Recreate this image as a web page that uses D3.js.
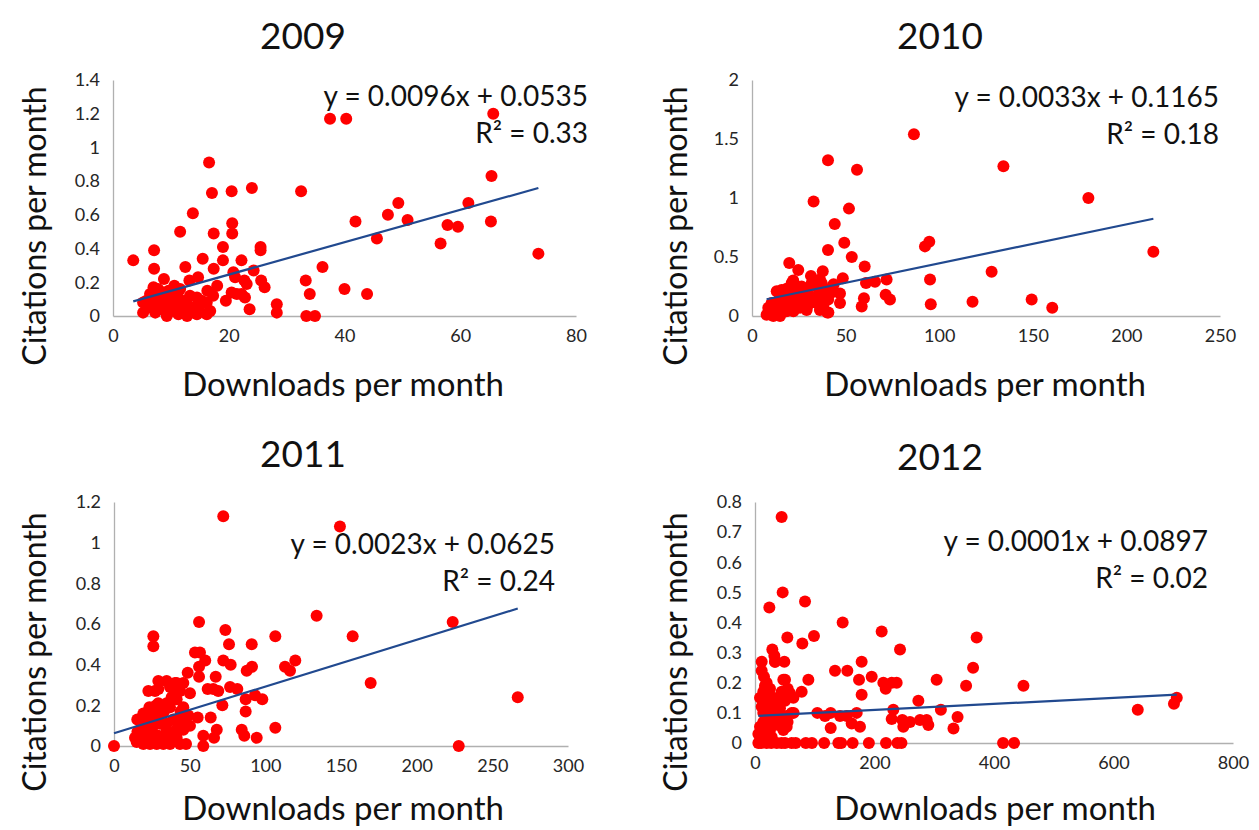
<!DOCTYPE html>
<html>
<head>
<meta charset="utf-8">
<script src="https://cdn.jsdelivr.net/npm/d3@7"></script>
<style>
  body { margin: 0; background: #fff; }
  svg { display: block; font-family: Lato, "Open Sans", sans-serif; }
</style>
</head>
<body>
<svg id="chart" width="1259" height="830"></svg>
<script>
// ---- Data: downloads per month (x) and citations per month (y), one pair of arrays per year ----
const years = ["2009", "2010", "2011", "2012"];

const downloads2009 = [3.5,7.1,7.1,8.8,11.6,13.8,16.6,17.1,20.5,24.0,32.5,37.5,40.3,65.7,65.4,20.6,20.6,17.4,19.0,19.0,15.5,12.5,17.4,22.2,25.5,25.5,24.3,36.2,20.8,21.1,14.7,13.2,22.7,23.1,25.6,26.2,33.3,34.0,40.0,43.9,18.0,16.3,17.3,19.5,20.5,21.4,22.2,22.8,23.6,28.3,28.3,33.4,34.9,13.3,11.6,10.6,41.9,47.5,49.3,50.9,57.8,59.6,61.4,65.3,56.6,45.6,73.5,9.6,8.7,7.8,7.0,6.4,5.8,5.2,5.2,7.3,9.3,11.3,12.8,14.5,16.2,15.0,13.8,12.1,10.7,9.8,8.4,7.0,7.8,6.1,16.2,15.3,14.5,12.7,11.3,10.1,9.0,7.8,10.5,12.0,8.5,14.0,6.5,9.3,11.0,8.0,16.8];
const citations2009 = [0.33,0.39,0.28,0.22,0.50,0.61,0.91,0.73,0.74,0.76,0.74,1.17,1.17,1.20,0.83,0.55,0.49,0.49,0.41,0.33,0.34,0.29,0.28,0.33,0.41,0.39,0.27,0.29,0.26,0.23,0.23,0.21,0.21,0.19,0.21,0.17,0.21,0.13,0.16,0.13,0.18,0.15,0.12,0.09,0.14,0.13,0.13,0.11,0.04,0.07,0.02,0,0,0.12,0.16,0.18,0.56,0.60,0.67,0.57,0.54,0.53,0.67,0.56,0.43,0.46,0.37,0.15,0.14,0.16,0.17,0.13,0.09,0.08,0.02,0.02,0.0,0.01,0.0,0.01,0.01,0.06,0.05,0.08,0.07,0.09,0.08,0.08,0.05,0.05,0.08,0.09,0.11,0.09,0.11,0.12,0.11,0.11,0.03,0.04,0.04,0.02,0.11,0.06,0.14,0.13,0.03];

const downloads2010 = [86.5,40.6,56.1,134.3,179.7,32.9,51.8,44.2,49.3,40.6,53.3,60.2,92.4,94.7,214.4,128.0,95.1,71.9,60.9,65.7,71.4,73.7,95.5,117.8,149.4,160.4,59.8,58.6,47.0,47.0,40.2,41.7,42.9,48.5,19.9,24.7,37.8,31.5,36.3,22.1,13.2,15.8,18.5,21.2,23.0,26.5,29.2,31.9,34.6,37.2,39.0,15.0,17.6,20.3,23.9,27.4,30.1,33.7,36.3,39.9,10.5,13.2,16.7,20.3,23.9,27.4,31.0,34.6,38.1,7.8,11.4,15.0,22.1,29.2,36.3,40.8,14.1,18.5,25.6,8.7,11.4,22.0,43.6,42.5,40.7,35.9,31.6,29.4];
const citations2010 = [1.54,1.32,1.24,1.27,1.00,0.97,0.91,0.78,0.62,0.56,0.50,0.42,0.59,0.63,0.545,0.375,0.31,0.31,0.28,0.29,0.18,0.14,0.10,0.12,0.14,0.07,0.15,0.08,0.19,0.11,0.03,0.22,0.25,0.32,0.45,0.39,0.38,0.34,0.31,0.29,0.21,0.22,0.23,0.28,0.23,0.25,0.22,0.28,0.25,0.28,0.21,0.16,0.14,0.15,0.16,0.16,0.18,0.16,0.14,0.16,0.11,0.09,0.08,0.09,0.08,0.11,0.11,0.11,0.09,0.01,0.0,0.0,0.04,0.05,0.05,0.03,0.05,0.04,0.07,0.07,0.04,0.30,0.27,0.20,0.14,0.20,0.14,0.08];

const downloads2011 = [72.2,149.3,133.9,223.8,157.7,169.6,266.8,227.8,0,26.0,26.0,56.2,73.6,76.0,91.0,106.6,53.5,56.8,60.3,72.2,77.1,87.7,91.2,113.0,116.3,119.8,56.2,56.2,48.7,67.2,29.3,22.7,40.3,43.6,45.8,40.3,43.6,50.2,61.9,65.6,68.9,76.7,81.5,87.0,93.2,98.0,71.6,87.0,55.3,63.9,106.6,84.4,86.1,94.3,67.9,66.1,59.0,59.0,22.7,26.0,29.3,31.5,34.8,38.1,41.4,45.8,49.1,50.2,45.8,41.4,37.0,32.6,28.2,23.8,19.4,15.0,13.9,17.2,21.6,26.0,30.4,34.8,39.2,43.6,46.9,18.3,22.7,27.1,34.8,39.2,29.3,23.8,43.6,47.6,15.4,19.4,23.4,29.3,27.1,34.8,37.0,41.4,20.0,25.0,31.0,36.0,42.0,18.0,28.0,33.0,37.0,44.0,24.0,15.5];
const citations2011 = [1.13,1.08,0.64,0.61,0.54,0.31,0.24,0,0,0.54,0.49,0.61,0.57,0.50,0.50,0.54,0.46,0.46,0.42,0.42,0.40,0.37,0.39,0.39,0.37,0.42,0.39,0.34,0.36,0.34,0.32,0.27,0.31,0.30,0.31,0.28,0.27,0.26,0.28,0.28,0.27,0.29,0.28,0.23,0.25,0.23,0.20,0.17,0.14,0.14,0.09,0.08,0.05,0.04,0.08,0.04,0.05,0,0.14,0.19,0.21,0.16,0.21,0.24,0.23,0.19,0.15,0.10,0.08,0.04,0.01,0.01,0.01,0.01,0.01,0.02,0.04,0.06,0.08,0.10,0.11,0.11,0.13,0.13,0.12,0.11,0.13,0.14,0.08,0.06,0.05,0.05,0.01,0.01,0.13,0.16,0.19,0.28,0.27,0.32,0.29,0.31,0.03,0.07,0.03,0.05,0.09,0.09,0.20,0.17,0.19,0.17,0.16,0.07];

const downloads2012 = [44.6,46.3,24.0,83.7,146.7,212,371,98.7,54.1,79.2,242.7,29,32.4,11.2,49.1,33.5,178.5,365,133.9,154.5,174.1,195.3,50.2,89.3,214.8,218.7,228.8,237.1,304,353.3,449.3,78.1,54.7,64.2,178.5,273.4,231.5,311.1,640.6,705.9,701.2,104.3,117.2,126.7,142.3,153.5,161.8,170.2,175.7,126.7,228.8,246.6,248.2,259.4,276.2,287.3,290.1,339,332.2,10.2,27.2,44.2,61.3,68.1,85.1,95.3,115.7,139.5,144.3,163.4,190.6,219.2,238.3,245.1,415.2,433.6,5.6,19.5,36.3,50.2,11.2,15.1,19.5,16.7,25.1,13.9,8.4,16.7,25.1,30.7,36.3,22.3,11.2,19.5,27.9,36.3,41.8,13.9,25.1,33.5,41.8,50.2,53.0,39.1,27.9,13.9,8.4,16.7,25.1,5.6,13.9,27.9,47.4,53.0,61.4,50.2,44.6,47.4,33.5,58.6,64.7,47.7,54.5];
const citations2012 = [0.75,0.50,0.45,0.47,0.40,0.37,0.35,0.355,0.35,0.33,0.31,0.31,0.29,0.27,0.27,0.27,0.27,0.25,0.24,0.24,0.21,0.22,0.21,0.21,0.20,0.18,0.20,0.20,0.21,0.19,0.19,0.17,0.18,0.15,0.16,0.14,0.11,0.11,0.11,0.15,0.13,0.10,0.09,0.10,0.09,0.09,0.065,0.10,0.054,0.05,0.08,0.076,0.054,0.07,0.076,0.076,0.06,0.086,0.048,0,0,0,0,0,0,0,0,0,0,0,0,0,0,0,0,0,0,0,0,0,0.24,0.22,0.20,0.19,0.18,0.17,0.15,0.14,0.15,0.15,0.14,0.13,0.12,0.11,0.10,0.11,0.115,0.10,0.09,0.076,0.076,0.076,0.054,0.06,0.07,0.07,0.054,0.05,0.043,0.03,0.02,0.02,0.043,0.09,0.10,0.14,0.17,0.21,0.27,0.165,0.10,0.053,0.07];

// Linear trend lines: y = slope * x + intercept, with R²
const trendSlopes = [0.0096, 0.0033, 0.0023, 0.0001];
const trendIntercepts = [0.0535, 0.1165, 0.0625, 0.0897];
const rSquared = [0.33, 0.18, 0.24, 0.02];

// Axis domains and tick values
const xDomains = [[0, 80], [0, 250], [0, 300], [0, 800]];
const yDomains = [[0, 1.4], [0, 2], [0, 1.2], [0, 0.8]];
const xTickValues = [
  [0, 20, 40, 60, 80],
  [0, 50, 100, 150, 200, 250],
  [0, 50, 100, 150, 200, 250, 300],
  [0, 200, 400, 600, 800]
];
const yTickValues = [
  [0, 0.2, 0.4, 0.6, 0.8, 1, 1.2, 1.4],
  [0, 0.5, 1, 1.5, 2],
  [0, 0.2, 0.4, 0.6, 0.8, 1, 1.2],
  [0, 0.1, 0.2, 0.3, 0.4, 0.5, 0.6, 0.7, 0.8]
];
const xTitle = "Downloads per month";
const yTitle = "Citations per month";

const downloads = [downloads2009, downloads2010, downloads2011, downloads2012];
const citations = [citations2009, citations2010, citations2011, citations2012];

// ---- Layout of the 2x2 grid of panels ----
const layout = [
  { left: 113, right: 576,  top: 80,  bottom: 316, titleX: 303, titleY: 49,  yLabX: 46,  yLabY: 226, xLabX: 343, xLabY: 396, eqX: 588,  eqY: 106 },
  { left: 752, right: 1220, top: 80,  bottom: 316, titleX: 940, titleY: 49,  yLabX: 687, yLabY: 226, xLabX: 985, xLabY: 396, eqX: 1219, eqY: 107 },
  { left: 114, right: 568,  top: 502, bottom: 746, titleX: 303, titleY: 467, yLabX: 46,  yLabY: 652, xLabX: 343, xLabY: 820, eqX: 555,  eqY: 554 },
  { left: 755, right: 1233, top: 502, bottom: 743, titleX: 940, titleY: 470, yLabX: 687, yLabY: 652, xLabX: 995, xLabY: 820, eqX: 1208, eqY: 551 }
];

const svg = d3.select("#chart");
const fmt = d3.format("~g");

years.forEach((year, i) => {
  const L = layout[i];
  const g = svg.append("g").attr("class", "panel");

  const x = d3.scaleLinear().domain(xDomains[i]).range([L.left, L.right]);
  const y = d3.scaleLinear().domain(yDomains[i]).range([L.bottom, L.top]);

  // Axes: light grey lines, no tick marks
  const xAxis = g.append("g")
    .attr("transform", `translate(0,${L.bottom})`)
    .call(d3.axisBottom(x).tickValues(xTickValues[i]).tickFormat(fmt)
      .tickSize(0).tickSizeOuter(0).tickPadding(13));
  const yAxis = g.append("g")
    .attr("transform", `translate(${L.left},0)`)
    .call(d3.axisLeft(y).tickValues(yTickValues[i]).tickFormat(fmt)
      .tickSize(0).tickSizeOuter(0).tickPadding(13));
  [xAxis, yAxis].forEach(a => {
    a.select(".domain").attr("stroke", "#b0b0b0").attr("stroke-width", 1.3);
    a.selectAll("text").attr("font-family", "Lato, sans-serif")
      .attr("font-size", 18).attr("fill", "#262626");
  });

  // Points
  const pts = d3.zip(downloads[i], citations[i]);
  g.append("g").selectAll("circle").data(pts).join("circle")
    .attr("cx", d => x(d[0]))
    .attr("cy", d => y(d[1]))
    .attr("r", 6)
    .attr("fill", "#ff0000");

  // Trend line across the range of downloads
  const [x0, x1] = d3.extent(downloads[i]);
  const f = v => trendSlopes[i] * v + trendIntercepts[i];
  g.append("line")
    .attr("x1", x(x0)).attr("y1", y(f(x0)))
    .attr("x2", x(x1)).attr("y2", y(f(x1)))
    .attr("stroke", "#21498f").attr("stroke-width", 2.2);

  // Equation and R²
  g.append("text")
    .attr("x", L.eqX).attr("y", L.eqY)
    .attr("text-anchor", "end").attr("font-size", 28).attr("fill", "#111")
    .text(`y = ${trendSlopes[i].toFixed(4)}x + ${trendIntercepts[i].toFixed(4)}`);
  g.append("text")
    .attr("x", L.eqX).attr("y", L.eqY + 37)
    .attr("text-anchor", "end").attr("font-size", 28).attr("fill", "#111")
    .text(`R² = ${rSquared[i].toFixed(2)}`);

  // Panel title
  g.append("text")
    .attr("x", L.titleX).attr("y", L.titleY)
    .attr("text-anchor", "middle").attr("font-size", 37).attr("fill", "#111")
    .text(year);

  // Axis titles
  g.append("text")
    .attr("x", L.xLabX).attr("y", L.xLabY)
    .attr("text-anchor", "middle").attr("font-size", 33).attr("fill", "#111")
    .text(xTitle);
  g.append("text")
    .attr("transform", `translate(${L.yLabX},${L.yLabY}) rotate(-90)`)
    .attr("text-anchor", "middle").attr("font-size", 32).attr("fill", "#111")
    .text(yTitle);
});
</script>
</body>
</html>
